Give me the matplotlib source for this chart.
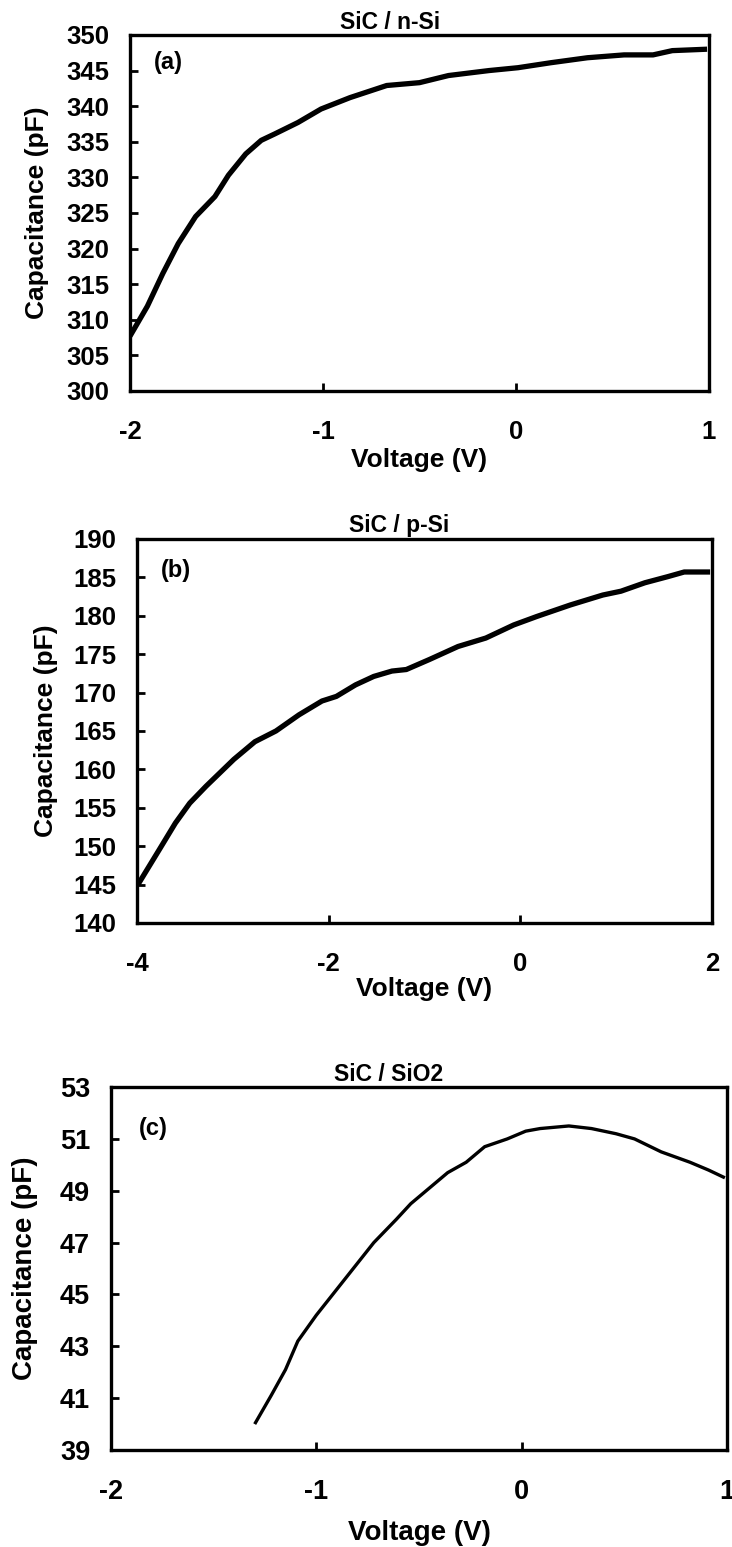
import matplotlib
matplotlib.use("Agg")
import matplotlib.pyplot as plt

plt.rcParams["font.family"] = ["Liberation Sans", "DejaVu Sans"]
plt.rcParams["font.weight"] = "bold"
plt.rcParams["axes.unicode_minus"] = False

# C-V curves, SiC on n-type silicon
v_nsi = [-2.0, -1.91, -1.83, -1.75, -1.66, -1.56, -1.49, -1.40, -1.32, -1.25,
         -1.13, -1.01, -0.86, -0.67, -0.50, -0.35, -0.14, 0.01, 0.18, 0.37,
         0.56, 0.71, 0.81, 0.99]
c_nsi = [307.7, 311.9, 316.5, 320.7, 324.5, 327.3, 330.3, 333.3, 335.2, 336.1,
         337.7, 339.6, 341.2, 342.9, 343.3, 344.3, 345.0, 345.4, 346.1, 346.8,
         347.2, 347.2, 347.8, 348.0]

# SiC on p-type silicon
v_psi = [-3.99, -3.77, -3.60, -3.45, -3.28, -2.99, -2.77, -2.55, -2.31, -2.07,
         -1.92, -1.72, -1.53, -1.34, -1.19, -0.95, -0.65, -0.36, -0.07, 0.17,
         0.52, 0.86, 1.05, 1.30, 1.54, 1.71, 1.98]
c_psi = [145.0, 149.5, 153.0, 155.6, 157.8, 161.3, 163.6, 165.0, 167.1, 168.9,
         169.5, 171.0, 172.1, 172.8, 173.0, 174.3, 176.0, 177.1, 178.8, 179.9,
         181.4, 182.7, 183.2, 184.3, 185.1, 185.7, 185.7]

# SiC on SiO2
v_sio2 = [-1.30, -1.22, -1.15, -1.09, -1.00, -0.90, -0.81, -0.72, -0.61, -0.54,
          -0.45, -0.36, -0.27, -0.18, -0.07, 0.02, 0.09, 0.23, 0.34, 0.46,
          0.55, 0.68, 0.82, 0.91, 0.99]
c_sio2 = [40.0, 41.1, 42.1, 43.2, 44.2, 45.2, 46.1, 47.0, 47.9, 48.5,
          49.1, 49.7, 50.1, 50.7, 51.0, 51.3, 51.4, 51.5, 51.4, 51.2,
          51.0, 50.5, 50.1, 49.8, 49.5]

panels = [
    dict(v=v_nsi, c=c_nsi, title="SiC / n-Si", tag="(a)",
         xlim=(-2, 1), xticks=[-2, -1, 0, 1], ylim=(300, 350),
         yticks=range(300, 351, 5), lw=3.8,
         rect=[0.1776, 0.7473, 0.791, 0.2301],
         tag_xy=(0.066, 0.924), title_x=0.45, xlab_y=-0.16, ylab_x=-0.14,
         fs=18.5, lfs=19),
    dict(v=v_psi, c=c_psi, title="SiC / p-Si", tag="(b)",
         xlim=(-4, 2), xticks=[-4, -2, 0, 2], ylim=(140, 190),
         yticks=range(140, 191, 5), lw=3.8,
         rect=[0.1872, 0.4034, 0.7855, 0.2482],
         tag_xy=(0.068, 0.919), title_x=0.455, xlab_y=-0.14, ylab_x=-0.137,
         fs=18.5, lfs=19),
    dict(v=v_sio2, c=c_sio2, title="SiC / SiO2", tag="(c)",
         xlim=(-2, 1), xticks=[-2, -1, 0, 1], ylim=(39, 53),
         yticks=range(39, 54, 2), lw=2.4,
         rect=[0.1516, 0.0627, 0.8415, 0.2346],
         tag_xy=(0.068, 0.887), title_x=0.45, xlab_y=-0.193, ylab_x=-0.118,
         fs=19.5, lfs=20),
]

fig = plt.figure(figsize=(7.32, 15.47), dpi=100)

for p in panels:
    ax = fig.add_axes(p["rect"])
    ax.plot(p["v"], p["c"], color="black", lw=p["lw"], solid_capstyle="butt")
    ax.set_xlim(*p["xlim"])
    ax.set_ylim(*p["ylim"])
    ax.set_xticks(p["xticks"])
    ax.set_yticks(list(p["yticks"]))
    ax.tick_params(direction="in", length=6, width=2, labelsize=p["fs"])
    ax.tick_params(axis="y", pad=15)
    ax.tick_params(axis="x", pad=21)
    for s in ax.spines.values():
        s.set_linewidth(2.4)
    ax.set_xlabel("Voltage (V)", fontsize=p["lfs"], fontweight="bold")
    ax.set_ylabel("Capacitance (pF)", fontsize=p["lfs"], fontweight="bold")
    ax.xaxis.set_label_coords(0.5, p["xlab_y"])
    ax.yaxis.set_label_coords(p["ylab_x"], 0.5)
    ax.text(p["title_x"], 1.035, p["title"], transform=ax.transAxes,
            ha="center", va="center", fontsize=16.5, fontweight="bold")
    ax.text(*p["tag_xy"], p["tag"], transform=ax.transAxes,
            ha="center", va="center", fontsize=17, fontweight="bold")

fig.savefig("out.png", dpi=100)
